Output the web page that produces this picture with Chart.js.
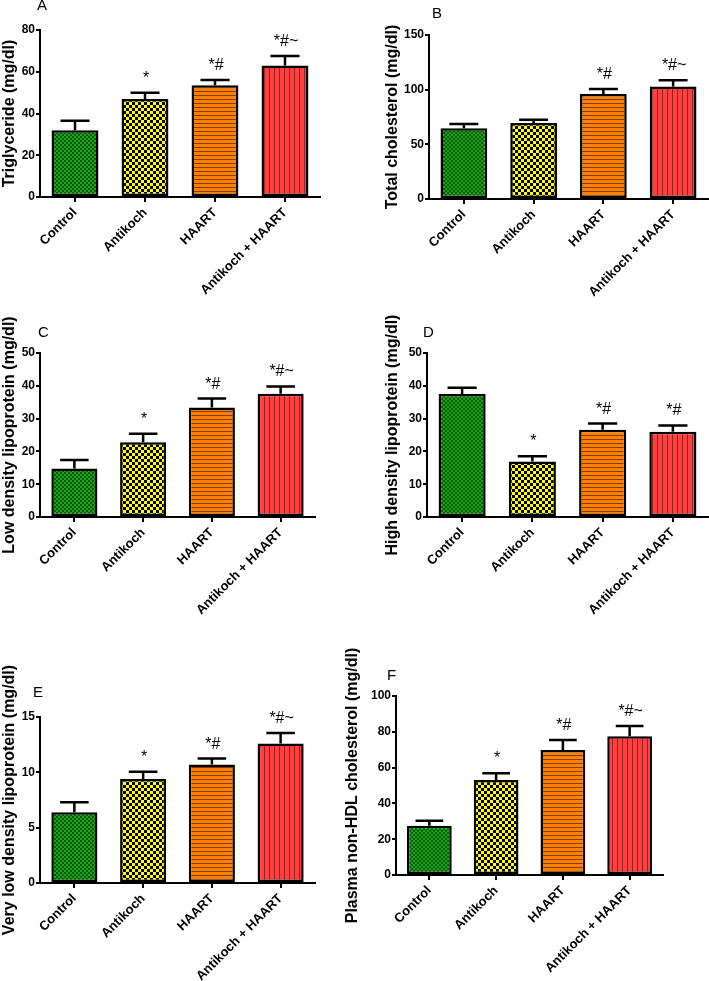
<!DOCTYPE html>
<html>
<head>
<meta charset="utf-8">
<script src="https://cdn.jsdelivr.net/npm/chart.js@4.4.0/dist/chart.umd.min.js"></script>
<style>
body { margin: 0; background: #fff; }
#wrap { position: relative; width: 709px; height: 981px; overflow: hidden; background: #fff; }
canvas { position: absolute; }
</style>
</head>
<body>
<div id="wrap">
<canvas id="chartA" width="340" height="300" style="left:0px;top:0px"></canvas>
<canvas id="chartB" width="326" height="300" style="left:383px;top:0px"></canvas>
<canvas id="chartC" width="340" height="320" style="left:0px;top:300px"></canvas>
<canvas id="chartD" width="326" height="320" style="left:383px;top:300px"></canvas>
<canvas id="chartE" width="343" height="361" style="left:0px;top:620px"></canvas>
<canvas id="chartF" width="366" height="361" style="left:343px;top:620px"></canvas>
</div>
<script>
'use strict';
// groups and values (mean, SEM)
var groups = ['Control', 'Antikoch', 'HAART', 'Antikoch + HAART'];

var tgMean = [32, 47, 53.5, 63];
var tgErr = [4.5, 3, 2.5, 4.5];
var tcMean = [64.6, 69.5, 96, 103];
var tcErr = [4, 3, 4.5, 5.5];
var ldlMean = [14.8, 22.8, 33.4, 37.6];
var ldlErr = [2.6, 2.6, 2.7, 2.2];
var hdlMean = [37.5, 16.9, 26.6, 26.0];
var hdlErr = [1.9, 1.6, 1.9, 1.9];
var vldlMean = [6.4, 9.4, 10.7, 12.6];
var vldlErr = [0.9, 0.65, 0.55, 0.95];
var nonHdlMean = [27.5, 53.1, 69.8, 77.5];
var nonHdlErr = [2.8, 3.7, 5.6, 5.7];

var marksA = ['', '*', '*#', '*#~'];
var marksB = ['', '', '*#', '*#~'];
var marksD = ['', '*', '*#', '*#'];

var FONT = '"Liberation Sans", Arial, sans-serif';

// fill patterns
function makePattern(w, h, draw) {
	var c = document.createElement('canvas');
	c.width = w; c.height = h;
	var g = c.getContext('2d');
	draw(g);
	return g.createPattern(c, 'repeat');
}
var greenFill = makePattern(4, 4, function(g) {
	g.fillStyle = '#1aa51a'; g.fillRect(0, 0, 4, 4);
	g.fillStyle = '#005a00'; g.fillRect(0, 0, 2, 2); g.fillRect(2, 2, 2, 2);
});
var yellowFill = makePattern(6, 6, function(g) {
	g.fillStyle = '#ffff00'; g.fillRect(0, 0, 6, 6);
	g.fillStyle = '#000'; g.fillRect(0, 0, 3, 3); g.fillRect(3, 3, 3, 3);
});
var orangeFill = makePattern(4, 4, function(g) {
	g.fillStyle = '#ff8000'; g.fillRect(0, 0, 4, 4);
	g.fillStyle = '#8a3c00'; g.fillRect(0, 3, 4, 1);
});
var redFill = makePattern(5, 5, function(g) {
	g.fillStyle = '#ff4040'; g.fillRect(0, 0, 5, 5);
	g.fillStyle = '#9a1f1f'; g.fillRect(4, 0, 1, 5);
});

// error bars, significance marks and panel letter
var errorBars = {
	id: 'errorBars',
	afterDatasetsDraw: function(chart, args, opts) {
		var ctx = chart.ctx;
		var y = chart.scales.y;
		var vals = chart.data.datasets[0].data;
		ctx.save();
		ctx.strokeStyle = '#000';
		ctx.fillStyle = '#000';
		ctx.lineWidth = 2.5;
		ctx.font = '16px ' + FONT;
		ctx.textAlign = 'center';
		ctx.textBaseline = 'alphabetic';
		chart.getDatasetMeta(0).data.forEach(function(bar, i) {
			var top = y.getPixelForValue(vals[i] + opts.err[i]);
			var half = bar.width * 0.31;
			ctx.beginPath();
			ctx.moveTo(bar.x, bar.y);
			ctx.lineTo(bar.x, top);
			ctx.moveTo(bar.x - half, top);
			ctx.lineTo(bar.x + half, top);
			ctx.stroke();
			if (opts.marks[i]) ctx.fillText(opts.marks[i], bar.x + 1, top - 10);
		});
		ctx.font = '15px ' + FONT;
		ctx.textAlign = 'left';
		ctx.fillText(opts.letter, opts.lx, opts.ly);
		ctx.restore();
	}
};

function makeChart(id, values, errs, marks, c) {
	return new Chart(document.getElementById(id).getContext('2d'), {
		type: 'bar',
		data: {
			labels: groups,
			datasets: [{
				data: values,
				backgroundColor: [greenFill, yellowFill, orangeFill, redFill],
				borderColor: '#000',
				borderWidth: 2.5,
				borderSkipped: false,
				barPercentage: 0.67,
				categoryPercentage: 1
			}]
		},
		options: {
			responsive: false,
			animation: false,
			devicePixelRatio: 1,
			layout: { padding: { top: c.top, right: c.right, left: 0, bottom: 0 } },
			plugins: {
				legend: { display: false },
				tooltip: { enabled: false },
				errorBars: { err: errs, marks: marks, letter: c.letter, lx: c.lx, ly: c.ly }
			},
			scales: {
				x: {
					offset: true,
					grid: { offset: false, drawOnChartArea: false, tickLength: 5, lineWidth: 2, color: '#000' },
					border: { display: true, color: '#000', width: 2 },
					ticks: {
						color: '#000', autoSkip: false, minRotation: 45, maxRotation: 45, padding: 3,
						font: { family: FONT, size: 13, weight: 'bold' }
					},
					afterFit: function(s) { s.height = c.xh; }
				},
				y: {
					min: 0, max: c.max,
					grid: { drawOnChartArea: false, tickLength: 4, lineWidth: 2, color: '#000' },
					border: { display: true, color: '#000', width: 2 },
					ticks: {
						stepSize: c.step, color: '#000', padding: 1,
						font: { family: FONT, size: 12, weight: 'bold' }
					},
					title: {
						display: true, text: c.title, color: '#000', padding: 0,
						font: { family: FONT, size: 16, weight: 'bold', lineHeight: 1.2 }
					},
					afterFit: function(s) { s.width = c.yw; }
				}
			}
		},
		plugins: [errorBars]
	});
}

makeChart('chartA', tgMean, tgErr, marksA, {
	max: 80, step: 20, title: 'Triglyceride (mg/dl)',
	yw: 40, xh: 103, top: 30, right: 20, letter: 'A', lx: 37, ly: 10
});
makeChart('chartB', tcMean, tcErr, marksB, {
	max: 150, step: 50, title: 'Total cholesterol (mg/dl)',
	yw: 46, xh: 101, top: 35, right: 1, letter: 'B', lx: 49, ly: 18
});
makeChart('chartC', ldlMean, ldlErr, marksA, {
	max: 50, step: 10, title: 'Low density lipoprotein (mg/dl)',
	yw: 40, xh: 103, top: 53, right: 25, letter: 'C', lx: 38, ly: 37
});
makeChart('chartD', hdlMean, hdlErr, marksD, {
	max: 50, step: 10, title: 'High density lipoprotein (mg/dl)',
	yw: 44, xh: 103, top: 53, right: 1, letter: 'D', lx: 40, ly: 37
});
makeChart('chartE', vldlMean, vldlErr, marksA, {
	max: 15, step: 5, title: 'Very low density lipoprotein (mg/dl)',
	yw: 40, xh: 98, top: 97, right: 28, letter: 'E', lx: 33, ly: 77
});
makeChart('chartF', nonHdlMean, nonHdlErr, marksA, {
	max: 100, step: 20, title: 'Plasma non-HDL cholesterol (mg/dl)',
	yw: 53, xh: 106, top: 76, right: 46, letter: 'F', lx: 44, ly: 60
});
</script>
</body>
</html>
